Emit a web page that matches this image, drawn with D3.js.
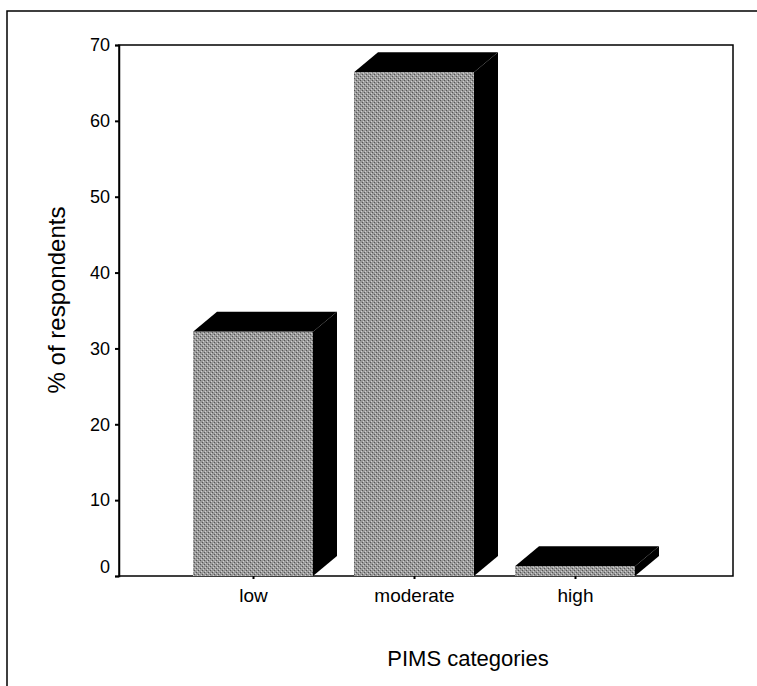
<!DOCTYPE html>
<html><head><meta charset="utf-8">
<script src="https://cdn.jsdelivr.net/npm/d3@7"></script>
<style>body{margin:0;background:#fff}svg{display:block}</style>
</head><body>
<script>
const categories = ["low", "moderate", "high"];
const values = [32.2, 66.4, 1.3];
const yTicks = [0, 10, 20, 30, 40, 50, 60, 70];
const xTitle = "PIMS categories";
const yTitle = "% of respondents";

(function () {
const W = 757, H = 686;
const svg = d3.select("body").append("svg").attr("width", W).attr("height", H);
const font = "Liberation Sans, Arial, sans-serif";

const defs = svg.append("defs");
const pat = defs.append("pattern").attr("id", "stip").attr("width", 4).attr("height", 4).attr("patternUnits", "userSpaceOnUse");
pat.append("rect").attr("width", 4).attr("height", 4).attr("fill", "#9a9a9a");
pat.append("rect").attr("x", 0).attr("y", 0).attr("width", 1).attr("height", 1).attr("fill", "#555");
pat.append("rect").attr("x", 2).attr("y", 2).attr("width", 1).attr("height", 1).attr("fill", "#555");
pat.append("rect").attr("x", 1).attr("y", 3).attr("width", 1).attr("height", 1).attr("fill", "#d0d0d0");
pat.append("rect").attr("x", 3).attr("y", 1).attr("width", 1).attr("height", 1).attr("fill", "#d0d0d0");

svg.append("path").attr("d", `M7,${H} L7,11 L${W},11`).attr("fill", "none").attr("stroke", "#000").attr("stroke-width", 1.5);

const pLeft = 119, pRight = 733, pTop = 45, pBottom = 576;
const x = d3.scalePoint().domain(categories).range([253, 575]);
const y = d3.scaleLinear().domain([0, 70]).range([pBottom, pTop]);
const bw = 120, dx = 24, dy = 20;

svg.append("rect").attr("x", pLeft).attr("y", pTop).attr("width", pRight - pLeft).attr("height", pBottom - pTop)
  .attr("fill", "none").attr("stroke", "#000").attr("stroke-width", 1.5);

const bars = svg.append("g");
categories.forEach((c, i) => {
  const x0 = x(c) - bw / 2, x1 = x(c) + bw / 2, yt = y(values[i]), y0 = y(0);
  bars.append("path").attr("d", `M${x1},${yt} L${x1 + dx},${yt - dy} L${x1 + dx},${y0 - dy} L${x1},${y0} Z`).attr("fill", "#000");
  bars.append("path").attr("d", `M${x0},${yt} L${x0 + dx},${yt - dy} L${x1 + dx},${yt - dy} L${x1},${yt} Z`).attr("fill", "#000");
  bars.append("rect").attr("x", x0).attr("y", yt).attr("width", bw).attr("height", y0 - yt).attr("fill", "url(#stip)");
});

const yAxis = d3.axisLeft(y).tickValues(yTicks).tickSize(4).tickPadding(5).tickFormat(d3.format("d"));
const gy = svg.append("g").attr("transform", `translate(${pLeft},0)`).call(yAxis);
gy.select(".domain").attr("stroke-width", 1.5);
gy.selectAll("text").attr("font-family", font).attr("font-size", 18).attr("fill", "#000");
gy.selectAll(".tick").filter(d => d === 0).select("text").attr("dy", "-0.2em");
gy.selectAll("line").attr("stroke-width", 2);

const xAxis = d3.axisBottom(x).tickSize(3).tickPadding(10);
const gx = svg.append("g").attr("transform", `translate(0,${pBottom})`).call(xAxis);
gx.select(".domain").remove();
gx.selectAll("text").attr("font-family", font).attr("font-size", 19).attr("fill", "#000");
gx.selectAll("line").attr("stroke-width", 2);

svg.append("text").attr("x", 468).attr("y", 666).attr("text-anchor", "middle")
  .attr("font-family", font).attr("font-size", 22).text(xTitle);
svg.append("text").attr("transform", "translate(65,300) rotate(-90)").attr("text-anchor", "middle")
  .attr("font-family", font).attr("font-size", 24).text(yTitle);
})();
</script>
</body></html>
